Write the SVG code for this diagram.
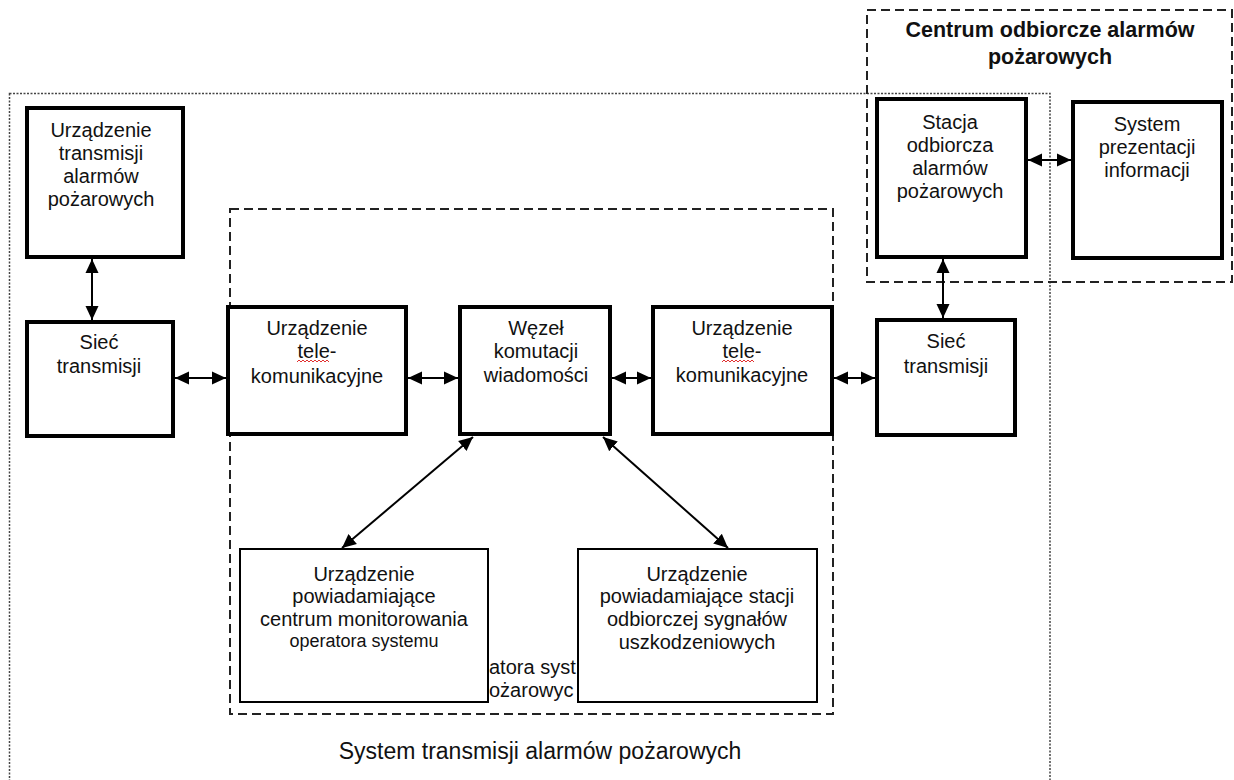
<svg xmlns="http://www.w3.org/2000/svg" width="1234" height="780" viewBox="0 0 1234 780">
<style>
.t{font-family:"Liberation Sans",Arial,sans-serif;font-size:20px;fill:#111;text-anchor:middle}
.s{font-size:18px}
.b{font-weight:bold;font-size:21.5px}
.big{font-size:23px}
.thick{fill:#fff;stroke:#000;stroke-width:4}
.thin{fill:#fff;stroke:#000;stroke-width:2}
.dash{fill:none;stroke:#222;stroke-width:2;stroke-dasharray:9 5}
.dot{fill:none;stroke:#444;stroke-width:1.5;stroke-dasharray:2 1.5}
.c{stroke:#000;stroke-width:2;fill:none;marker-start:url(#ah);marker-end:url(#ah)}
.sq{fill:none;stroke:#e03030;stroke-width:1}
</style>
<defs>
<marker id="ah" markerUnits="userSpaceOnUse" markerWidth="15" markerHeight="15" viewBox="0 0 15 15" refX="14" refY="7.5" orient="auto-start-reverse">
<path d="M0,1 L14,7.5 L0,14 z" fill="#000"/>
</marker>
<clipPath id="gap"><rect x="488" y="650" width="89" height="55"/></clipPath>
</defs>
<rect width="1234" height="780" fill="#fff"/>

<g id="frames">
<rect class="dot" x="9.5" y="93.5" width="1040.5" height="700"/>
<rect class="dash" x="867" y="10" width="365" height="272"/>
<rect class="dash" x="230" y="209" width="603" height="505"/>
</g>

<g id="hidden-label" clip-path="url(#gap)">
<text class="t" x="489" y="674" style="text-anchor:start">atora syst</text>
<text class="t" x="489" y="697" style="text-anchor:start">ożarowyc</text>
</g>

<g id="n-uta">
<rect class="thick" x="27" y="108" width="156" height="149"/>
<text class="t" x="101" y="137">Urządzenie</text>
<text class="t" x="101" y="160">transmisji</text>
<text class="t" x="101" y="183">alarmów</text>
<text class="t" x="101" y="206">pożarowych</text>
</g>

<g id="n-siec1">
<rect class="thick" x="27" y="322" width="146" height="114"/>
<text class="t" x="99" y="349">Sieć</text>
<text class="t" x="99" y="373">transmisji</text>
</g>

<g id="n-tele1">
<rect class="thick" x="228" y="307" width="178" height="127"/>
<text class="t" x="317" y="335">Urządzenie</text>
<text class="t" x="317" y="358">tele-</text>
<path class="sq" d="M297,362 l2,-2 l2,2 l2,-2 l2,2 l2,-2 l2,2 l2,-2 l2,2 l2,-2 l2,2 l2,-2 l2,2 l2,-2 l2,2 l2,-2 l2,2"/>
<text class="t" x="317" y="383">komunikacyjne</text>
</g>

<g id="n-wezel">
<rect class="thick" x="460" y="307" width="150" height="127"/>
<text class="t" x="536" y="335">Węzeł</text>
<text class="t" x="536" y="358">komutacji</text>
<text class="t" x="536" y="382">wiadomości</text>
</g>

<g id="n-tele2">
<rect class="thick" x="653" y="307" width="179" height="127"/>
<text class="t" x="742" y="335">Urządzenie</text>
<text class="t" x="742" y="358">tele-</text>
<path class="sq" d="M722,362 l2,-2 l2,2 l2,-2 l2,2 l2,-2 l2,2 l2,-2 l2,2 l2,-2 l2,2 l2,-2 l2,2 l2,-2 l2,2 l2,-2 l2,2"/>
<text class="t" x="742" y="382">komunikacyjne</text>
</g>

<g id="n-siec2">
<rect class="thick" x="877" y="320" width="138" height="115"/>
<text class="t" x="946" y="348">Sieć</text>
<text class="t" x="946" y="373">transmisji</text>
</g>

<g id="n-stacja">
<rect class="thick" x="877" y="99" width="149" height="158"/>
<text class="t" x="950" y="129">Stacja</text>
<text class="t" x="950" y="152">odbiorcza</text>
<text class="t" x="950" y="175">alarmów</text>
<text class="t" x="950" y="198">pożarowych</text>
</g>

<g id="n-system">
<rect class="thick" x="1073" y="102" width="149" height="156"/>
<text class="t" x="1147" y="131">System</text>
<text class="t" x="1147" y="154">prezentacji</text>
<text class="t" x="1147" y="177">informacji</text>
</g>

<g id="title">
<text class="t b" x="1050" y="37">Centrum odbiorcze alarmów</text>
<text class="t b" x="1050" y="64">pożarowych</text>
</g>

<g id="n-pow1">
<rect class="thin" x="240" y="549" width="248" height="153"/>
<text class="t" x="364" y="581">Urządzenie</text>
<text class="t" x="364" y="603">powiadamiające</text>
<text class="t" x="364" y="626">centrum monitorowania</text>
<text class="t s" x="364" y="647">operatora systemu</text>
</g>

<g id="n-pow2">
<rect class="thin" x="578" y="549" width="239" height="153"/>
<text class="t" x="697" y="581">Urządzenie</text>
<text class="t" x="697" y="603">powiadamiające stacji</text>
<text class="t" x="697" y="626">odbiorczej sygnałów</text>
<text class="t" x="697" y="649">uszkodzeniowych</text>
</g>

<g id="label">
<text class="t big" x="540" y="759">System transmisji alarmów pożarowych</text>
</g>

<g id="connectors">
<line class="c" x1="92" y1="259" x2="92" y2="320"/>
<line class="c" x1="175" y1="378" x2="226" y2="378"/>
<line class="c" x1="408" y1="378" x2="458" y2="378"/>
<line class="c" x1="612" y1="378" x2="651" y2="378"/>
<line class="c" x1="834" y1="378" x2="875" y2="378"/>
<line class="c" x1="943" y1="259" x2="943" y2="318"/>
<line class="c" x1="1028" y1="160" x2="1071" y2="160"/>
<line class="c" x1="473" y1="437" x2="342" y2="548"/>
<line class="c" x1="603" y1="437" x2="728" y2="548"/>
</g>
</svg>
